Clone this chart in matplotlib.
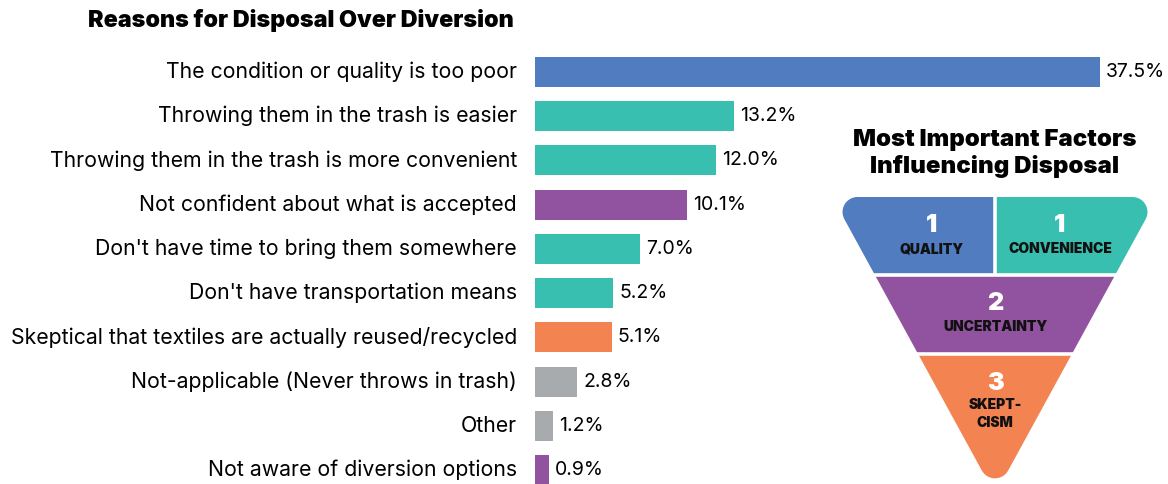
import numpy as np
import matplotlib.pyplot as plt
from matplotlib.patches import Polygon, Rectangle

plt.rcParams['font.family'] = ['Inter', 'DejaVu Sans']

reasons = [
    "The condition or quality is too poor",
    "Throwing them in the trash is easier",
    "Throwing them in the trash is more convenient",
    "Not confident about what is accepted",
    "Don't have time to bring them somewhere",
    "Don't have transportation means",
    "Skeptical that textiles are actually reused/recycled",
    "Not-applicable (Never throws in trash)",
    "Other",
    "Not aware of diversion options",
]
shares = [37.5, 13.2, 12.0, 10.1, 7.0, 5.2, 5.1, 2.8, 1.2, 0.9]
groups = ["quality", "convenience", "convenience", "uncertainty", "convenience",
          "convenience", "skepticism", "none", "none", "uncertainty"]

factor_names = ["QUALITY", "CONVENIENCE", "UNCERTAINTY", "SKEPT-\nCISM"]
factor_ranks = [1, 1, 2, 3]
factor_groups = ["quality", "convenience", "uncertainty", "skepticism"]

palette = {
    "quality": "#517dc0",
    "convenience": "#38bfb0",
    "uncertainty": "#91529f",
    "skepticism": "#f48352",
    "none": "#a8abad",
}

W, H = 1168, 484
fig = plt.figure(figsize=(W / 100, H / 100), dpi=100)

# --- bar chart -------------------------------------------------------------
ax = fig.add_axes([535 / W, 0, (W - 535) / W, 1])
rows = np.arange(len(reasons))
ax.barh(rows, shares, height=0.68, color=[palette[g] for g in groups])
ax.set_xlim(0, (W - 535) / 15.07)
ax.set_ylim(9.317, -1.628)
ax.axis("off")
for r, v, name in zip(rows, shares, reasons):
    ax.text(v + 0.4, r, f"{v:.1f}%", va="center", ha="left", fontsize=14)
    ax.annotate(name, (0, r), xytext=(-13, 0), textcoords="offset points",
                va="center", ha="right", fontsize=15.3, annotation_clip=False)

fig.text(514 / W, 1 - 20 / H, "Reasons for Disposal Over Diversion",
         ha="right", va="center", fontsize=16.8, fontweight="black")

# --- funnel ---------------------------------------------------------------
fx = fig.add_axes([0, 0, 1, 1], zorder=3)
fx.set_xlim(0, W)
fx.set_ylim(H, 0)
fx.axis("off")
fx.patch.set_alpha(0)

cx, top, slope = 995, 197, 0.547
apex_y = 352 + 78 / slope
tri = np.array([[cx - slope * (apex_y - top), top],
                [cx + slope * (apex_y - top), top],
                [cx, apex_y]])


def rounded(poly, r, n=16):
    # inset the triangle by r, then sweep arcs of radius r round its corners
    c = poly.mean(axis=0)
    k = len(poly)
    normals = []
    for i in range(k):
        a, b = poly[i], poly[(i + 1) % k]
        d = b - a
        nrm = np.array([d[1], -d[0]]) / np.hypot(*d)
        if np.dot(nrm, (a + b) / 2 - c) < 0:
            nrm = -nrm
        normals.append(nrm)
    lines = [(poly[i] - normals[i] * r, poly[(i + 1) % k] - normals[i] * r) for i in range(k)]

    def meet(l1, l2):
        p, q = l1[0], l1[1] - l1[0]
        s, t = l2[0], l2[1] - l2[0]
        m = np.array([q, -t]).T
        u = np.linalg.solve(m, s - p)
        return p + u[0] * q

    pts = []
    for i in range(k):
        prev, nxt = normals[i - 1], normals[i]
        v = meet(lines[i - 1], lines[i])
        a0, a1 = np.arctan2(prev[1], prev[0]), np.arctan2(nxt[1], nxt[0])
        da = (a1 - a0 + np.pi) % (2 * np.pi) - np.pi
        for a in np.linspace(a0, a0 + da, n):
            pts.append(v + r * np.array([np.cos(a), np.sin(a)]))
    return np.array(pts)


outline = Polygon(rounded(tri, 15), closed=True, facecolor="none", edgecolor="none")
fx.add_patch(outline)

bands = [(top - 5, 275, 0, 995), (top - 5, 275, 995, W),
         (275, 354, 0, W), (354, H + 20, 0, W)]
for (y0, y1, x0, x1), g in zip(bands, factor_groups):
    rect = Rectangle((x0, y0), x1 - x0, y1 - y0, color=palette[g], lw=0)
    fx.add_patch(rect)
    rect.set_clip_path(outline)

for seg in [([800, 1200], [275, 275]), ([800, 1200], [354, 354]), ([995, 995], [190, 275])]:
    fx.plot(*seg, color="white", lw=2.6, solid_capstyle="butt")

spots = [(932, 226), (1060, 226), (995, 304), (995, 383)]
for (x, y), rank, name in zip(spots, factor_ranks, factor_names):
    fx.text(x, y, str(rank), ha="center", va="center", color="white",
            fontsize=18, fontweight="black")
    lift = 8 if "\n" in name else 0
    fx.text(x, y + 23 + lift, name, ha="center", va="center",
            fontsize=10, fontweight="black", linespacing=1.3,
            color="#111111")

fx.text(995, 140, "Most Important Factors", ha="center", va="center",
        fontsize=17.3, fontweight="black")
fx.text(995, 167, "Influencing Disposal", ha="center", va="center",
        fontsize=17.3, fontweight="black")

fig.savefig("out.png", dpi=100)
